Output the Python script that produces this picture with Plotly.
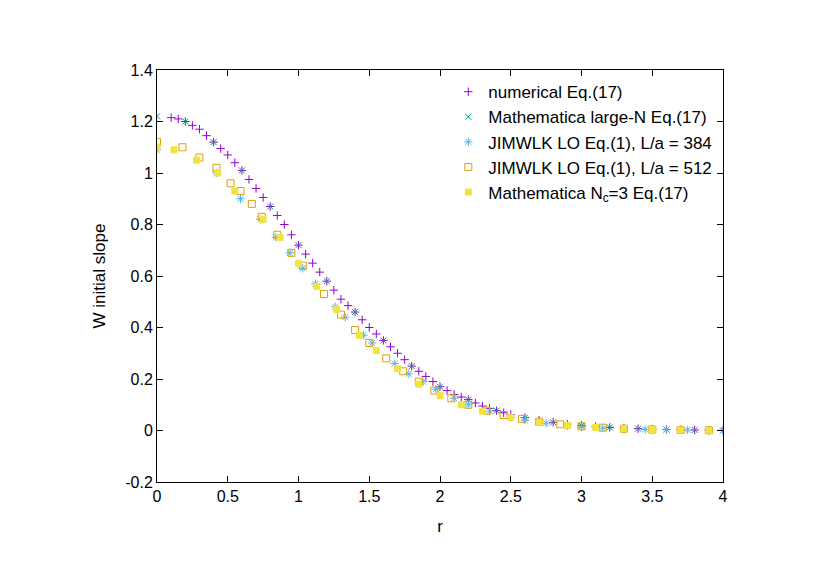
import plotly.graph_objects as go

# numerical Eq.(17)
r_num = [0.1, 0.15, 0.2, 0.25, 0.3, 0.35, 0.4, 0.45, 0.5, 0.55, 0.6, 0.65, 0.7, 0.75, 0.8, 0.85,
         0.9, 0.95, 1.0, 1.05, 1.1, 1.15, 1.2, 1.25, 1.3, 1.35, 1.4, 1.45, 1.5, 1.55, 1.6, 1.65,
         1.7, 1.75, 1.8, 1.85, 1.9, 1.95, 2.0, 2.05, 2.1, 2.15, 2.2, 2.25, 2.3, 2.35, 2.4, 2.45,
         2.5, 2.6, 2.7, 2.8, 2.9, 3.0, 3.1, 3.2, 3.3, 3.4, 3.5, 3.6, 3.7, 3.8, 3.9, 4.0]
w_num = [1.215, 1.21, 1.20, 1.185, 1.17, 1.145, 1.12, 1.095, 1.07, 1.04, 1.01, 0.975, 0.94, 0.905,
         0.87, 0.835, 0.80, 0.76, 0.72, 0.685, 0.65, 0.615, 0.58, 0.545, 0.51, 0.485, 0.46, 0.43,
         0.40, 0.375, 0.35, 0.325, 0.30, 0.275, 0.25, 0.23, 0.21, 0.19, 0.17, 0.155, 0.14, 0.13,
         0.12, 0.107, 0.095, 0.086, 0.077, 0.069, 0.062, 0.05, 0.04, 0.032, 0.025, 0.02, 0.015,
         0.012, 0.009, 0.007, 0.005, 0.004, 0.003, 0.002, 0.0015, 0.001]

# Mathematica large-N Eq.(17)
r_ln = [0.0, 0.2, 0.4, 0.6, 0.8, 1.0, 1.2, 1.4, 1.6, 1.8, 2.0, 2.2, 2.4, 2.6, 2.8, 3.0, 3.2,
        3.4, 3.6, 3.8, 4.0]
w_ln = [1.22, 1.20, 1.12, 1.01, 0.87, 0.72, 0.58, 0.46, 0.35, 0.25, 0.17, 0.12, 0.077, 0.05,
        0.032, 0.02, 0.012, 0.007, 0.004, 0.002, 0.001]

# JIMWLK LO Eq.(1), L/a = 384
r_384 = [0.0, 0.42, 0.59, 0.73, 0.84, 0.94, 1.03, 1.12, 1.26, 1.33, 1.46, 1.52, 1.68, 1.78,
         1.88, 1.97, 2.1, 2.2, 2.35, 2.5, 2.6, 2.75, 2.9, 3.0, 3.15, 3.3, 3.45, 3.6, 3.75, 3.9, 4.0]
w_384 = [1.09, 1.00, 0.90, 0.82, 0.75, 0.69, 0.63, 0.57, 0.48, 0.44, 0.37, 0.34, 0.26, 0.22,
         0.19, 0.16, 0.125, 0.10, 0.075, 0.05, 0.04, 0.028, 0.018, 0.014, 0.009, 0.006, 0.004,
         0.003, 0.002, 0.001, 0.001]

# JIMWLK LO Eq.(1), L/a = 512
r_512 = [0.0, 0.18, 0.30, 0.42, 0.52, 0.59, 0.67, 0.74, 0.85, 0.95, 1.03, 1.18, 1.30, 1.40,
         1.50, 1.62, 1.74, 1.85, 1.96, 2.08, 2.2, 2.33, 2.45, 2.58, 2.7, 2.85, 3.0, 3.15, 3.3,
         3.5, 3.7, 3.9]
w_512 = [1.12, 1.10, 1.06, 1.02, 0.96, 0.93, 0.88, 0.83, 0.76, 0.69, 0.64, 0.53, 0.45, 0.39,
         0.34, 0.28, 0.23, 0.19, 0.155, 0.125, 0.10, 0.077, 0.06, 0.045, 0.034, 0.024, 0.016,
         0.011, 0.007, 0.004, 0.002, 0.001]

# Mathematica Nc=3 Eq.(17)
r_nc3 = [0.0, 0.12, 0.28, 0.43, 0.55, 0.75, 0.87, 1.0, 1.13, 1.27, 1.43, 1.55, 1.7, 1.85,
         2.0, 2.15, 2.3, 2.5, 2.7, 2.9, 3.1, 3.3, 3.5, 3.7, 3.9]
w_nc3 = [1.10, 1.09, 1.05, 1.00, 0.93, 0.82, 0.75, 0.65, 0.56, 0.47, 0.37, 0.31, 0.24, 0.18,
         0.135, 0.10, 0.075, 0.05, 0.032, 0.02, 0.012, 0.007, 0.004, 0.002, 0.001]

y_ticks = [-0.2, 0, 0.2, 0.4, 0.6, 0.8, 1, 1.2, 1.4]
y_labels = ["-0.2", "0", "0.2", "0.4", "0.6", "0.8", "1", "1.2", "1.4"]

fig = go.Figure()
series = [
    ("numerical Eq.(17)", r_num, w_num, "cross-thin-open", "#9400d3", 6),
    ("Mathematica large-N Eq.(17)", r_ln, w_ln, "x-thin-open", "#009e73", 6),
    ("JIMWLK LO Eq.(1), L/a = 384", r_384, w_384, "asterisk-open", "#56b4e9", 7),
    ("JIMWLK LO Eq.(1), L/a = 512", r_512, w_512, "square-open", "#e69f00", 7),
    ("Mathematica N<sub>c</sub>=3 Eq.(17)", r_nc3, w_nc3, "square", "#f0e442", 6),
]
for name, xs, ys, sym, col, sz in series:
    fig.add_trace(go.Scatter(x=xs, y=ys, mode="markers", name=name,
                             marker=dict(symbol=sym, color=col, size=sz,
                                         line=dict(color=col, width=1))))

axis = dict(showgrid=False, zeroline=False, showline=True, linecolor="black", linewidth=1,
            mirror="ticks", ticks="inside", ticklen=6, tickcolor="black",
            tickfont=dict(size=16, color="black"))
fig.update_xaxes(range=[0, 4], dtick=0.5, title=dict(text="r", font=dict(size=17)), **axis)
fig.update_yaxes(range=[-0.2, 1.4], tickvals=y_ticks, ticktext=y_labels,
                 title=dict(text="W initial slope", font=dict(size=17)), **axis)
fig.update_layout(
    width=830, height=587, plot_bgcolor="white", paper_bgcolor="white",
    margin=dict(l=149, r=115, t=62, b=113),
    font=dict(family="Liberation Sans, Arial, sans-serif", color="black", size=17),
    legend=dict(x=0.99, y=0.99, xanchor="right", yanchor="top", bgcolor="rgba(0,0,0,0)",
                font=dict(size=17), tracegroupgap=0),
)
fig.write_html("out.html")
